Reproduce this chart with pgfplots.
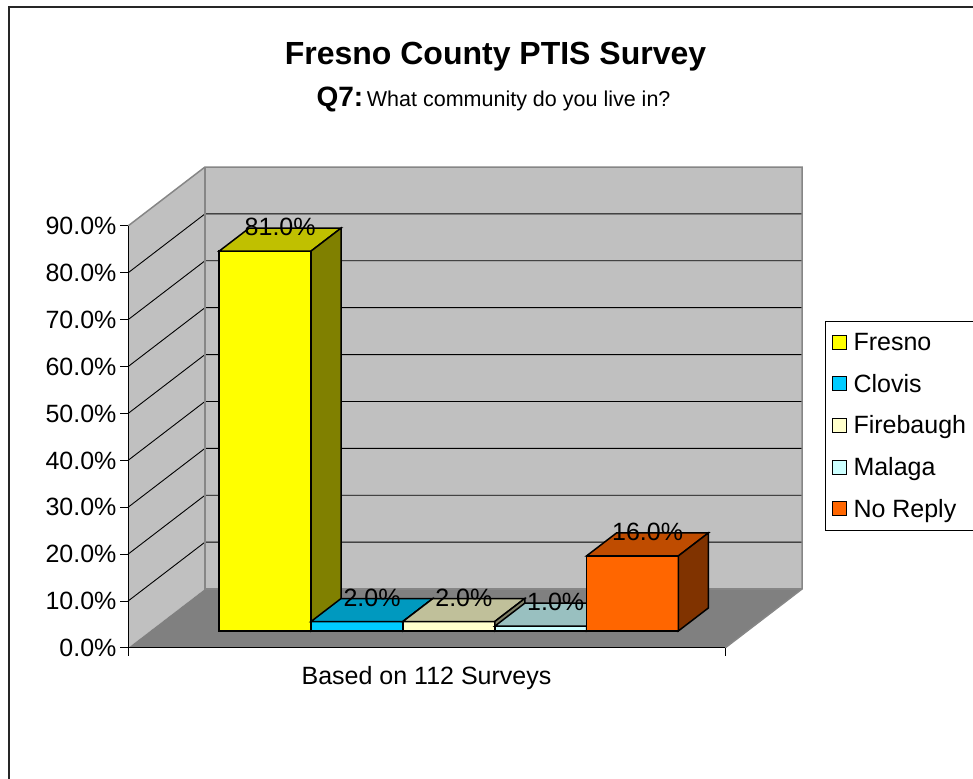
\documentclass[border=0pt]{standalone}
\usepackage{fontspec}
\setmainfont{Liberation Sans}
\usepackage{pgfplots}
\usepackage{pgfplotstable}
\pgfplotsset{compat=1.18}

\pgfplotstableread{
idx v
0 81
1 2
2 2
3 1
4 16
}\survey

\definecolor{wallc}{HTML}{C0C0C0}
\definecolor{floorc}{HTML}{808080}
\definecolor{edgec}{HTML}{868686}
\definecolor{fresF}{HTML}{FFFF00}\definecolor{fresT}{HTML}{C0C000}\definecolor{fresS}{HTML}{808000}
\definecolor{cloF}{HTML}{00CCFF}\definecolor{cloT}{HTML}{0099BF}\definecolor{cloS}{HTML}{006680}
\definecolor{firF}{HTML}{FFFFCC}\definecolor{firT}{HTML}{C0C09A}\definecolor{firS}{HTML}{808066}
\definecolor{malF}{HTML}{CCFFFF}\definecolor{malT}{HTML}{99C0C0}\definecolor{malS}{HTML}{668080}
\definecolor{norF}{HTML}{FF6600}\definecolor{norT}{HTML}{BF4C00}\definecolor{norS}{HTML}{803300}

% one 3D column: #1 row, #2 front, #3 top, #4 side
\newcommand\threedbar[4]{%
  \pgfplotstablegetelem{#1}{v}\of\survey
  \pgfmathsetmacro\V{\pgfplotsretval}%
  \pgfmathsetmacro\xa{#1+0.2431}\pgfmathsetmacro\xb{#1+1.2431}%
  \pgfmathsetmacro\xc{#1+0.5700}\pgfmathsetmacro\xd{#1+1.5700}%
  \pgfmathsetmacro\ya{3.648}\pgfmathsetmacro\yb{\V+3.648}%
  \pgfmathsetmacro\yc{8.554}\pgfmathsetmacro\yd{\V+8.554}%
  \edef\tmp{%
    \noexpand\addplot[fill=#2,draw=black,line width=1.5pt,forget plot] coordinates {(\xa,\ya) (\xb,\ya) (\xb,\yb) (\xa,\yb)} -- cycle;
    \noexpand\addplot[fill=#3,draw=black,line width=1.5pt,forget plot] coordinates {(\xa,\yb) (\xb,\yb) (\xd,\yd) (\xc,\yd)} -- cycle;
    \noexpand\addplot[fill=#4,draw=black,line width=1.5pt,forget plot] coordinates {(\xb,\ya) (\xd,\yc) (\xd,\yd) (\xb,\yb)} -- cycle;
  }\tmp
}
\newcommand\barlabel[1]{%
  \pgfplotstablegetelem{#1}{v}\of\survey
  \pgfmathsetmacro\V{\pgfplotsretval}%
  \pgfmathsetmacro\lx{#1+0.5+0.4066}\pgfmathsetmacro\ly{\V+6.1}%
  \edef\tmp{%
    \noexpand\node[anchor=base,yshift=4pt,font=\noexpand\fontsize{25}{30}\noexpand\selectfont] at (axis cs:\lx,\ly) {\noexpand\pgfmathprintnumber[fixed,fixed zerofill,precision=1]{\V}\noexpand\%};
  }\tmp
}

\begin{document}
\begin{tikzpicture}[x=1pt,y=1pt]
\useasboundingbox (0,0) rectangle (973,778);
\draw[line width=1.6pt, black!85] (9,-2) -- (9,771) -- (975,771);

\node[anchor=base,font=\bfseries\fontsize{32}{38}\selectfont] at (495.5,713) {Fresno County PTIS Survey};
\node[anchor=base] at (493.5,671) {{\bfseries\fontsize{28}{32}\selectfont Q7:} {\fontsize{21.5}{26}\selectfont What community do you live in?}};

\begin{axis}[
  at={(128pt,130pt)}, anchor=south west,
  scale only axis, width=597pt, height=422pt,
  xmin=-0.75, xmax=5.75, ymin=0, ymax=90,
  clip=false, axis on top,
  axis x line*=bottom, axis y line*=left,
  axis line style={black, line width=1pt},
  tick style={black, line width=1pt},
  tick align=outside, major tick length=8pt,
  ytick={0,10,...,90},
  xtick={-0.75,5.75}, xticklabels={{},{}},
  yticklabel={\pgfmathprintnumber[fixed,fixed zerofill,precision=1]{\tick}\%},
  /pgf/number format/assume math mode=true,
  ticklabel style={font=\fontsize{25}{30}\selectfont},
  xlabel={Based on 112 Surveys},
  xlabel style={at={(axis description cs:0.5,0)}, anchor=base, yshift=-37pt, font=\fontsize{25}{30}\selectfont},
  legend style={at={(1.1675,0.7749)}, anchor=north west, draw=black, line width=1pt,
    font=\fontsize{25}{30}\selectfont, row sep=18pt, inner xsep=6pt, inner ysep=10pt,
    /tikz/every odd column/.append style={column sep=5pt}},
  legend cell align=left,
]
% walls and floor
\fill[wallc] (-0.75,0) -- (0.0883,12.58) -- (0.0883,102.58) -- (-0.75,90) -- cycle;
\fill[wallc] (0.0883,12.58) rectangle (6.5883,102.58);
\fill[floorc] (-0.75,0) -- (5.75,0) -- (6.5883,12.58) -- (0.0883,12.58) -- cycle;
\pgfplotsinvokeforeach{10,20,30,40,50,60,70,80}{
  \draw[black, line width=0.9pt] (-0.75,#1) -- (0.0883,#1+12.58) -- (6.5883,#1+12.58);
}
\draw[edgec, line width=1.5pt] (-0.75,90) -- (0.0883,102.58) -- (6.5883,102.58) -- (6.5883,12.58) -- (5.75,0);
\draw[edgec, line width=1.5pt] (0.0883,102.58) -- (0.0883,12.58) -- (6.5883,12.58);

\threedbar{0}{fresF}{fresT}{fresS}
\threedbar{1}{cloF}{cloT}{cloS}
\threedbar{2}{firF}{firT}{firS}
\threedbar{3}{malF}{malT}{malS}
\threedbar{4}{norF}{norT}{norS}
\barlabel{0}\barlabel{1}\barlabel{2}\barlabel{3}\barlabel{4}

\pgfplotsset{legend image code/.code={\draw[#1, line width=1pt] (0pt,-7pt) rectangle (14pt,7pt);}}
\addlegendimage{fill=fresF, draw=black}\addlegendentry{Fresno}
\addlegendimage{fill=cloF, draw=black}\addlegendentry{Clovis}
\addlegendimage{fill=firF, draw=black}\addlegendentry{Firebaugh}
\addlegendimage{fill=malF, draw=black}\addlegendentry{Malaga}
\addlegendimage{fill=norF, draw=black}\addlegendentry{No Reply}
\end{axis}
\end{tikzpicture}
\end{document}
